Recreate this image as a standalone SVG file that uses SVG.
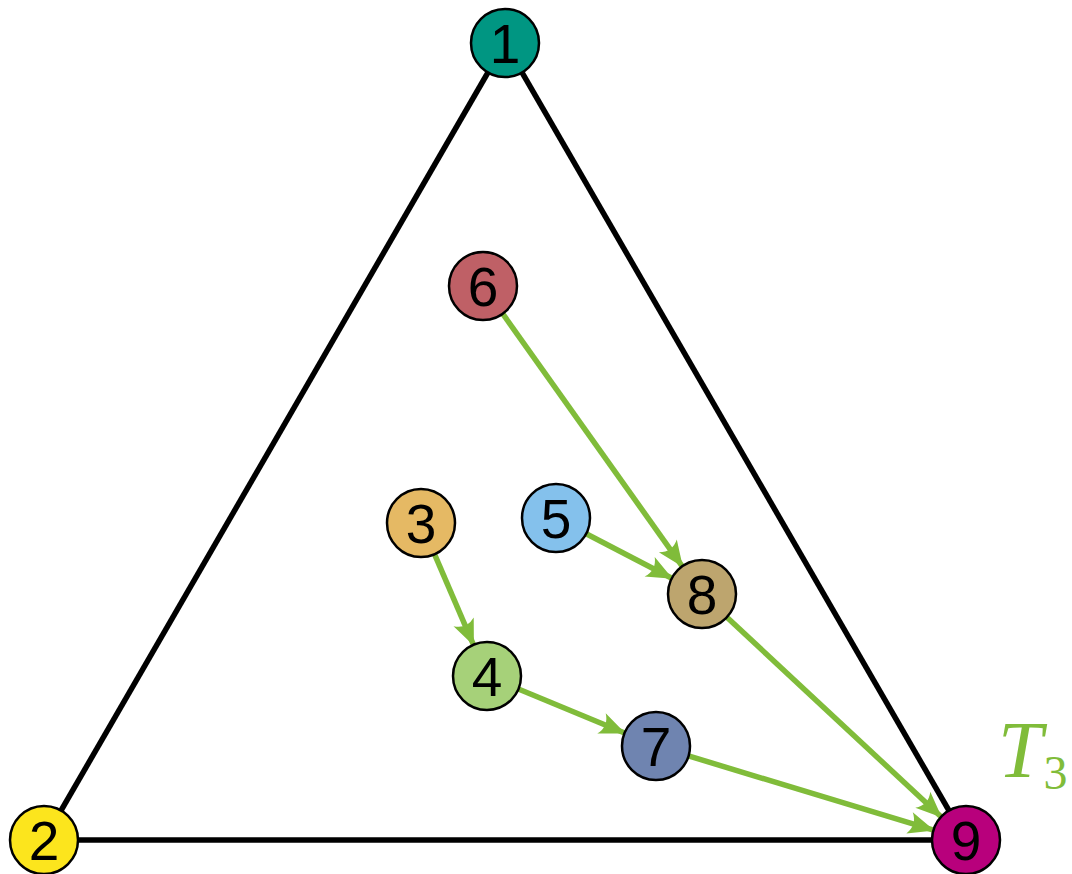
<svg xmlns="http://www.w3.org/2000/svg" width="1072" height="874" viewBox="0 0 1072 874">
<defs>
<style>
.edge{stroke:#000;stroke-width:5.5;fill:none}
.arr{stroke:#80bc3a;stroke-width:5.5;fill:none;marker-end:url(#ah)}
.node circle{stroke:#000;stroke-width:2.5}
.node text{font-family:"Liberation Sans",Arial,sans-serif;font-size:55px;text-anchor:middle;fill:#000}
</style>
<marker id="ah" markerUnits="userSpaceOnUse" viewBox="-28 -14 30 28" refX="0" refY="0" markerWidth="30" markerHeight="28" orient="auto">
<path d="M1,0 L-25,-11 Q-17,0 -25,11 Z" fill="#80bc3a"/>
</marker>
</defs>
<rect width="1072" height="874" fill="#fff"/>
<g id="connectors">
<line class="edge" x1="505" y1="43" x2="44" y2="840"/>
<line class="edge" x1="505" y1="43" x2="966" y2="840"/>
<line class="edge" x1="44" y1="840" x2="966" y2="840"/>
<line class="arr" x1="502.7" y1="313.7" x2="682.3" y2="566.3"/>
<line class="arr" x1="586.2" y1="533.7" x2="671.8" y2="578.3"/>
<line class="arr" x1="726.9" y1="617.2" x2="941.1" y2="816.8"/>
<line class="arr" x1="434.5" y1="554.2" x2="473.5" y2="644.8"/>
<line class="arr" x1="518.4" y1="689" x2="624.6" y2="733"/>
<line class="arr" x1="688.5" y1="755.9" x2="933.5" y2="830.1"/>
</g>
<g id="n1" class="node"><circle cx="505" cy="43" r="34" fill="#009682"/><text x="505" y="63">1</text></g>
<g id="n2" class="node"><circle cx="44" cy="840" r="34" fill="#fce51d"/><text x="44" y="860">2</text></g>
<g id="n3" class="node"><circle cx="421" cy="523" r="34" fill="#e5b964"/><text x="421" y="543">3</text></g>
<g id="n4" class="node"><circle cx="487" cy="676" r="34" fill="#a6d179"/><text x="487" y="696">4</text></g>
<g id="n5" class="node"><circle cx="556" cy="518" r="34" fill="#84c1ec"/><text x="556" y="538">5</text></g>
<g id="n6" class="node"><circle cx="483" cy="286" r="34" fill="#bf6066"/><text x="483" y="306">6</text></g>
<g id="n7" class="node"><circle cx="656" cy="746" r="34" fill="#6f84b0"/><text x="656" y="766">7</text></g>
<g id="n8" class="node"><circle cx="702" cy="594" r="34" fill="#bda56e"/><text x="702" y="614">8</text></g>
<g id="n9" class="node"><circle cx="966" cy="840" r="34" fill="#b8007c"/><text x="966" y="860">9</text></g>
<text x="998" y="777" font-family="Liberation Serif,serif" font-style="italic" font-size="80" fill="#80bc3a">T<tspan font-style="normal" font-size="48" dy="12" dx="1">3</tspan></text>
</svg>
